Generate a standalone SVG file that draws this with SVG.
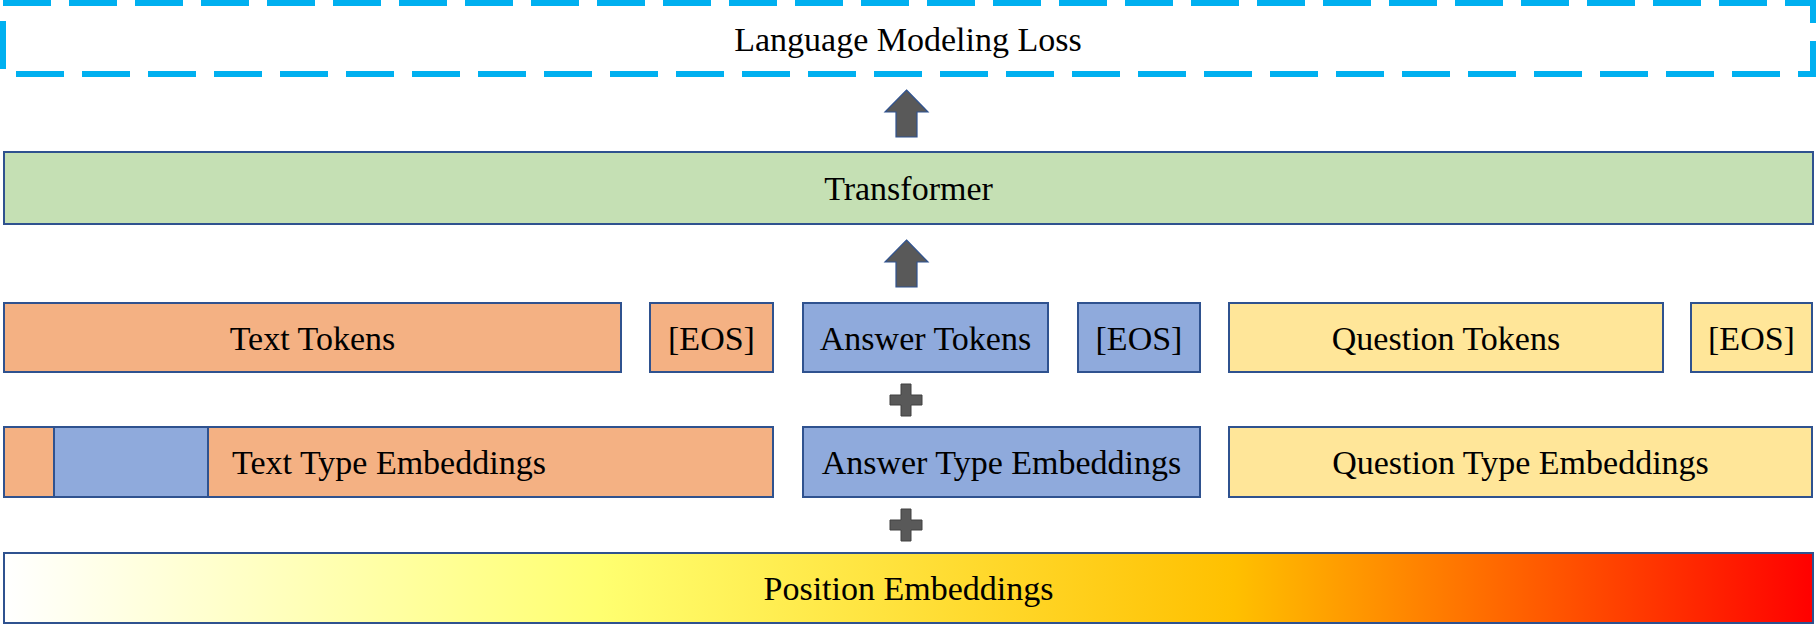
<svg xmlns="http://www.w3.org/2000/svg" width="1816" height="630" viewBox="0 0 1816 630">
<style>
.box{stroke:#2F528F;stroke-width:2}
.or{fill:#F4B183}.bl{fill:#8FAADC}.ye{fill:#FFE699}.gr{fill:#C5E0B4}
.t{font-family:"Liberation Serif","Times New Roman",serif;font-size:34px;fill:#000;text-anchor:middle}
.arr{fill:#595959;stroke:#2F528F;stroke-width:1.2}
.plus{fill:#595959;stroke:#404040;stroke-width:1}
</style>
<defs>
<linearGradient id="pos" x1="0" y1="0" x2="1" y2="0">
<stop offset="0" stop-color="#FFFFFF"/>
<stop offset="0.33" stop-color="#FFFF70"/>
<stop offset="0.68" stop-color="#FFC000"/>
<stop offset="1" stop-color="#FF0000"/>
</linearGradient>
</defs>
<g id="loss">
<rect x="3" y="3" width="1810" height="71" fill="none" stroke="#00B0F0" stroke-width="6" stroke-dasharray="48 18"/>
<text class="t" x="908" y="51">Language Modeling Loss</text>
</g>
<g id="transformer">
<rect class="box gr" x="4" y="152" width="1809" height="72"/>
<text class="t" x="908.5" y="200">Transformer</text>
</g>
<g id="text-tokens">
<rect class="box or" x="4" y="303" width="617" height="69"/>
<text class="t" x="312.5" y="350">Text Tokens</text>
</g>
<g id="eos1">
<rect class="box or" x="650" y="303" width="123" height="69"/>
<text class="t" x="711.5" y="350">[EOS]</text>
</g>
<g id="answer-tokens">
<rect class="box bl" x="803" y="303" width="245" height="69"/>
<text class="t" x="925.5" y="350">Answer Tokens</text>
</g>
<g id="eos2">
<rect class="box bl" x="1078" y="303" width="122" height="69"/>
<text class="t" x="1139" y="350">[EOS]</text>
</g>
<g id="question-tokens">
<rect class="box ye" x="1229" y="303" width="434" height="69"/>
<text class="t" x="1446" y="350">Question Tokens</text>
</g>
<g id="eos3">
<rect class="box ye" x="1691" y="303" width="121" height="69"/>
<text class="t" x="1751.5" y="350">[EOS]</text>
</g>
<g id="text-type">
<rect class="box or" x="4" y="427" width="769" height="70"/>
<rect class="box bl" x="54" y="427" width="154" height="70"/>
<text class="t" x="389" y="474">Text Type Embeddings</text>
</g>
<g id="answer-type">
<rect class="box bl" x="803" y="427" width="397" height="70"/>
<text class="t" x="1001.5" y="474">Answer Type Embeddings</text>
</g>
<g id="question-type">
<rect class="box ye" x="1229" y="427" width="583" height="70"/>
<text class="t" x="1520.5" y="474">Question Type Embeddings</text>
</g>
<g id="position">
<rect class="box" x="4" y="553" width="1809" height="70" fill="url(#pos)"/>
<text class="t" x="908.5" y="600">Position Embeddings</text>
</g>
<g id="connectors">
<polygon class="arr" points="906.5,90 928,112 917,112 917,137 896,137 896,112 885,112"/>
<polygon class="arr" points="906.5,240 928,262 917,262 917,287 896,287 896,262 885,262"/>
<polygon class="plus" points="901,384 911,384 911,395 922,395 922,405 911,405 911,416 901,416 901,405 890,405 890,395 901,395"/>
<polygon class="plus" points="901,509 911,509 911,520 922,520 922,530 911,530 911,541 901,541 901,530 890,530 890,520 901,520"/>
</g>
</svg>
